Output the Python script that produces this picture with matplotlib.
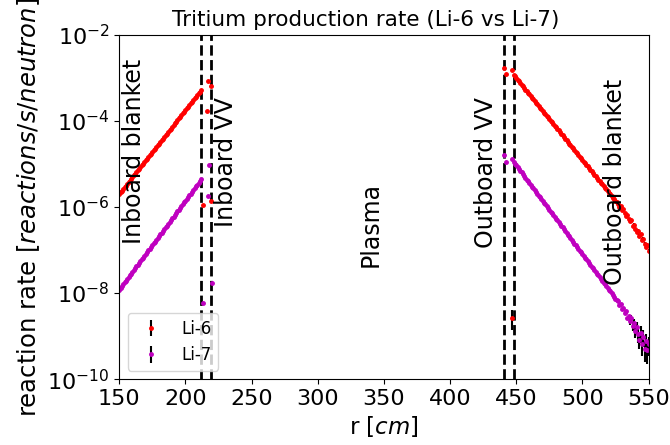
import numpy as np
import matplotlib
matplotlib.use("Agg")
import matplotlib.pyplot as plt

# mesh centres [cm]
r_inboard = [150, 151, 152, 153, 154, 155, 156, 157, 158, 159, 160, 161, 162, 163, 164, 165,
             166, 167, 168, 169, 170, 171, 172, 173, 174, 175, 176, 177, 178, 179, 180, 181,
             182, 183, 184, 185, 186, 187, 188, 189, 190, 191, 192, 193, 194, 195, 196, 197,
             198, 199, 200, 201, 202, 203, 204, 205, 206, 207, 208, 209, 210, 211, 212]
r_outboard = [448, 449, 450, 451, 452, 453, 454, 455, 456, 457, 458, 459, 460, 461, 462, 463,
              464, 465, 466, 467, 468, 469, 470, 471, 472, 473, 474, 475, 476, 477, 478, 479,
              480, 481, 482, 483, 484, 485, 486, 487, 488, 489, 490, 491, 492, 493, 494, 495,
              496, 497, 498, 499, 500, 501, 502, 503, 504, 505, 506, 507, 508, 509, 510, 511,
              512, 513, 514, 515, 516, 517, 518, 519, 520, 521, 522, 523, 524, 525, 526, 527,
              528, 529, 530, 531, 532, 533, 534, 535, 536, 537, 538, 539, 540, 541, 542, 543,
              544, 545, 546, 547, 548, 549, 550]

# Li-6 tritium production [reactions/s/neutron]
li6_inboard = [2.00e-6, 2.19e-6, 2.39e-6, 2.62e-6, 2.86e-6, 3.13e-6, 3.43e-6, 3.75e-6, 4.10e-6,
               4.49e-6, 4.91e-6, 5.37e-6, 5.87e-6, 6.42e-6, 7.03e-6, 7.69e-6, 8.41e-6, 9.20e-6,
               1.01e-5, 1.10e-5, 1.20e-5, 1.32e-5, 1.44e-5, 1.58e-5, 1.72e-5, 1.89e-5, 2.06e-5,
               2.26e-5, 2.47e-5, 2.70e-5, 2.95e-5, 3.23e-5, 3.54e-5, 3.87e-5, 4.23e-5, 4.63e-5,
               5.06e-5, 5.54e-5, 6.06e-5, 6.63e-5, 7.25e-5, 7.93e-5, 8.67e-5, 9.49e-5, 1.04e-4,
               1.14e-4, 1.24e-4, 1.36e-4, 1.49e-4, 1.63e-4, 1.78e-4, 1.95e-4, 2.13e-4, 2.33e-4,
               2.55e-4, 2.79e-4, 3.05e-4, 3.34e-4, 3.65e-4, 3.99e-4, 4.37e-4, 4.78e-4, 5.23e-4]
li6_outboard = [1.17e-3, 1.07e-3, 9.82e-4, 9.00e-4, 8.24e-4, 7.55e-4, 6.92e-4, 6.34e-4, 5.81e-4,
                5.32e-4, 4.88e-4, 4.47e-4, 4.09e-4, 3.75e-4, 3.44e-4, 3.15e-4, 2.88e-4, 2.64e-4,
                2.42e-4, 2.22e-4, 2.03e-4, 1.86e-4, 1.71e-4, 1.56e-4, 1.43e-4, 1.31e-4, 1.20e-4,
                1.10e-4, 1.01e-4, 9.25e-5, 8.48e-5, 7.77e-5, 7.11e-5, 6.52e-5, 5.97e-5, 5.47e-5,
                5.02e-5, 4.59e-5, 4.21e-5, 3.86e-5, 3.53e-5, 3.24e-5, 2.97e-5, 2.72e-5, 2.49e-5,
                2.28e-5, 2.09e-5, 1.92e-5, 1.76e-5, 1.61e-5, 1.47e-5, 1.35e-5, 1.24e-5, 1.13e-5,
                1.04e-5, 9.51e-6, 8.71e-6, 7.98e-6, 7.31e-6, 6.70e-6, 6.14e-6, 5.62e-6, 5.15e-6,
                4.72e-6, 4.33e-6, 3.96e-6, 3.63e-6, 3.33e-6, 3.05e-6, 2.79e-6, 2.56e-6, 2.35e-6,
                2.15e-6, 1.97e-6, 1.80e-6, 1.65e-6, 1.51e-6, 1.39e-6, 1.27e-6, 1.18e-6, 1.02e-6,
                1.05e-6, 8.6e-7, 8.9e-7, 7.2e-7, 6.0e-7, 6.6e-7, 5.2e-7, 4.6e-7, 4.9e-7,
                3.6e-7, 3.9e-7, 3.1e-7, 2.6e-7, 2.8e-7, 2.1e-7, 2.3e-7, 1.7e-7, 1.8e-7,
                1.4e-7, 1.2e-7, 1.3e-7, 9.5e-8]
li6_vv_r = [213.3, 216.4, 217.1, 219.4, 219.4, 441.0, 442.0, 446.5, 446.5]
li6_vv = [1.1e-6, 1.7e-4, 8.5e-4, 6.6e-4, 1.35e-6, 1.7e-3, 1.2e-3, 1.5e-3, 2.7e-9]
li6_vv_err = [0, 0, 0, 0, 0, 0, 0, 0, 1.3e-9]

# Li-7 tritium production [reactions/s/neutron]
li7_inboard = [1.20e-8, 1.32e-8, 1.45e-8, 1.60e-8, 1.76e-8, 1.93e-8, 2.12e-8, 2.34e-8, 2.57e-8,
               2.83e-8, 3.11e-8, 3.42e-8, 3.76e-8, 4.14e-8, 4.55e-8, 5.00e-8, 5.50e-8, 6.05e-8,
               6.66e-8, 7.32e-8, 8.05e-8, 8.86e-8, 9.74e-8, 1.07e-7, 1.18e-7, 1.30e-7, 1.43e-7,
               1.57e-7, 1.73e-7, 1.90e-7, 2.09e-7, 2.30e-7, 2.53e-7, 2.78e-7, 3.06e-7, 3.36e-7,
               3.70e-7, 4.07e-7, 4.47e-7, 4.92e-7, 5.41e-7, 5.95e-7, 6.55e-7, 7.20e-7, 7.92e-7,
               8.71e-7, 9.58e-7, 1.05e-6, 1.16e-6, 1.27e-6, 1.40e-6, 1.54e-6, 1.69e-6, 1.86e-6,
               2.05e-6, 2.25e-6, 2.48e-6, 2.73e-6, 3.00e-6, 3.30e-6, 3.63e-6, 3.99e-6, 4.39e-6]
li7_outboard = [1.12e-5, 1.02e-5, 9.26e-6, 8.42e-6, 7.66e-6, 6.96e-6, 6.33e-6, 5.76e-6, 5.23e-6,
                4.76e-6, 4.33e-6, 3.93e-6, 3.58e-6, 3.25e-6, 2.96e-6, 2.69e-6, 2.45e-6, 2.22e-6,
                2.02e-6, 1.84e-6, 1.67e-6, 1.52e-6, 1.38e-6, 1.26e-6, 1.14e-6, 1.04e-6, 9.46e-7,
                8.60e-7, 7.82e-7, 7.11e-7, 6.47e-7, 5.88e-7, 5.35e-7, 4.86e-7, 4.42e-7, 4.02e-7,
                3.66e-7, 3.33e-7, 3.02e-7, 2.75e-7, 2.50e-7, 2.27e-7, 2.07e-7, 1.88e-7, 1.71e-7,
                1.56e-7, 1.41e-7, 1.29e-7, 1.17e-7, 1.06e-7, 9.67e-8, 8.79e-8, 7.99e-8, 7.27e-8,
                6.61e-8, 6.01e-8, 5.47e-8, 4.97e-8, 4.52e-8, 4.11e-8, 3.74e-8, 3.40e-8, 3.09e-8,
                2.81e-8, 2.56e-8, 2.32e-8, 2.11e-8, 1.92e-8, 1.75e-8, 1.59e-8, 1.44e-8, 1.31e-8,
                1.19e-8, 1.09e-8, 9.87e-9, 8.97e-9, 8.16e-9, 7.42e-9, 6.75e-9, 6.4e-9, 5.2e-9,
                5.6e-9, 4.3e-9, 4.6e-9, 3.5e-9, 3.9e-9, 2.7e-9, 3.0e-9, 2.2e-9, 2.6e-9,
                1.7e-9, 2.0e-9, 1.3e-9, 1.6e-9, 1.1e-9, 8.0e-10, 1.2e-9, 6.5e-10, 9.5e-10,
                5.0e-10, 7.5e-10, 4.8e-10, 6.5e-10]
li7_vv_r = [213.3, 217.1, 217.9, 220.1, 441.0, 442.0, 446.5]
li7_vv = [6.0e-9, 1.8e-6, 9.5e-6, 1.7e-8, 1.6e-5, 1.1e-5, 1.3e-5]

# statistical error on the noisy outboard tail (536-550 cm)
li6_tail_err = [0.3e-7, 0.4e-7, 0.3e-7, 0.3e-7, 0.3e-7, 0.2e-7, 0.3e-7, 0.2e-7,
                0.2e-7, 0.2e-7, 0.2e-7, 0.15e-7, 0.15e-7, 0.15e-7, 0.1e-7]
li7_tail_err = [0.4e-9, 0.5e-9, 0.4e-9, 0.5e-9, 0.4e-9, 0.5e-9, 0.4e-9, 0.3e-9,
                0.5e-9, 0.3e-9, 0.4e-9, 0.25e-9, 0.35e-9, 0.25e-9, 0.3e-9]

boundaries = [212, 219, 440.5, 448]
regions = ["Inboard blanket", "Inboard VV", "Plasma", "Outboard VV", "Outboard blanket"]
region_x = [161, 231, 340, 427, 525]
region_y = [0.662, 0.63, 0.448, 0.60, 0.573]
x_ticks = [150, 200, 250, 300, 350, 400, 450, 500, 550]

# ---- build arrays
r6 = np.concatenate([r_inboard, li6_vv_r, r_outboard])
y6 = np.concatenate([li6_inboard, li6_vv, li6_outboard])
e6 = np.concatenate([np.zeros(len(r_inboard)), li6_vv_err,
                     np.zeros(len(r_outboard) - len(li6_tail_err)), li6_tail_err])
r7 = np.concatenate([r_inboard, li7_vv_r, r_outboard])
y7 = np.concatenate([li7_inboard, li7_vv, li7_outboard])
e7 = np.concatenate([np.zeros(len(r_inboard) + len(li7_vv_r) + len(r_outboard) - len(li7_tail_err)),
                     li7_tail_err])

plt.rcParams['font.size'] = 16

fig = plt.figure(figsize=(6.7, 4.45), dpi=100)
ax = fig.add_subplot(1, 1, 1)
fig.subplots_adjust(left=0.178, right=0.968, top=0.922, bottom=0.148)

ax.errorbar(r6, y6, yerr=e6, fmt='.', color='r', ecolor='k', markersize=5, label='Li-6')
ax.errorbar(r7, y7, yerr=e7, fmt='.', color='m', ecolor='k', markersize=5, label='Li-7')

for b in boundaries:
    ax.axvline(b, color='k', linestyle='--', linewidth=2)

for name, x, y in zip(regions, region_x, region_y):
    ax.text(x, y, name, rotation=90, ha='center', va='center',
            transform=ax.get_xaxis_transform(), fontsize=17)

ax.set_yscale('log')
ax.set_xlim([150, 550])
ax.set_ylim([1e-10, 1e-2])
ax.set_xticks(x_ticks)
ax.tick_params(labelsize=16)
ax.set_xlabel("r [$cm$]", fontsize=16.5)
ax.set_ylabel("reaction rate [$reactions/s/neutron$]", fontsize=17.5)
ax.set_title("Tritium production rate (Li-6 vs Li-7)", fontsize=15.5, x=0.465)
ax.legend(loc='lower left', fontsize=12)

fig.savefig("out.png")
